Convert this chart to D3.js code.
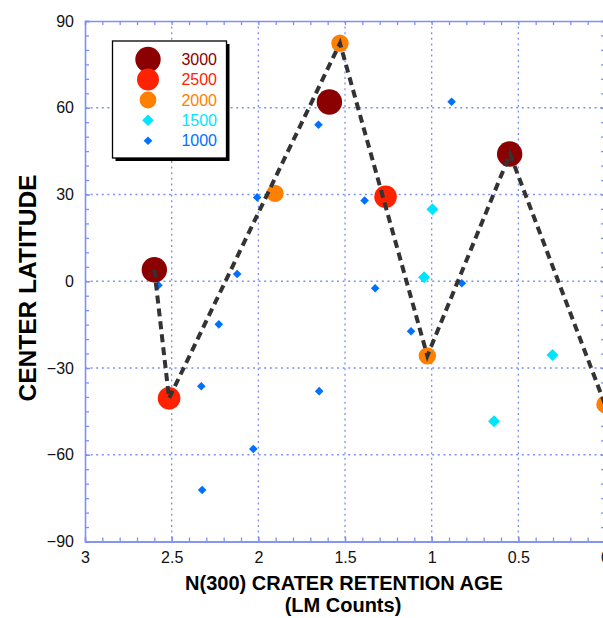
<!DOCTYPE html>
<html>
<head>
<meta charset="utf-8">
<script src="https://cdn.jsdelivr.net/npm/d3@7"></script>
<style>
  body { margin: 0; background: #fff; }
  text { font-family: "Liberation Sans", Arial, sans-serif; }
</style>
</head>
<body>
<script>
// tick labels
var xTicks = [3, 2.5, 2, 1.5, 1, 0.5, 0];
var yTicks = [-90, -60, -30, 0, 30, 60, 90];

// series: crater retention age (x) vs center latitude (y)
var age3000 = [2.60, 1.59, 0.55];
var lat3000 = [4, 62, 44];
var age2500 = [2.515, 1.266];
var lat2500 = [-40.5, 29.2];
var age2000 = [1.904, 1.529, 1.025, 0.0];
var lat2000 = [30.4, 82.3, -25.8, -42.6];
var age1500 = [0.996, 1.044, 0.303, 0.640];
var lat1500 = [24.9, 1.4, -25.5, -48.4];
var age1000 = [2.576, 2.122, 2.228, 2.007, 1.653, 0.885, 1.387, 1.326, 1.119, 0.826, 2.329, 1.649, 2.029, 2.324];
var lat1000 = [-1.4, 2.5, -14.9, 29.0, 54.1, 62.1, 27.9, -2.4, -17.3, -0.7, -36.3, -38.0, -58.0, -72.2];

// dashed envelope line
var envAge = [2.60, 2.515, 1.529, 1.025, 0.548, 0.0];
var envLat = [4, -40.5, 82.3, -25.8, 44, -42.6];

var legendLabels = ["3000", "2500", "2000", "1500", "1000"];

window.onload = drawChart();

function drawChart() {
    var width = 603,
        height = 618;

    var svg = d3.select("body")
        .append("svg")
        .attr("width", width)
        .attr("height", height);

    var x = d3.scaleLinear().domain([3, 0]).range([85, 605]);
    var y = d3.scaleLinear().domain([-90, 90]).range([541.5, 21]);

    var axisColor = "#7f8ff5";

    //dotted grid at major ticks
    var grid = svg.append("g");
    grid.selectAll(".gx")
        .data(xTicks.slice(1, -1))
        .enter().append("line")
        .attr("x1", function(d){ return x(d); })
        .attr("x2", function(d){ return x(d); })
        .attr("y1", y(90)).attr("y2", y(-90))
        .attr("stroke", axisColor).attr("stroke-width", 1.3)
        .attr("stroke-dasharray", "2,3.6");
    grid.selectAll(".gy")
        .data(yTicks.slice(1, -1))
        .enter().append("line")
        .attr("y1", function(d){ return y(d); })
        .attr("y2", function(d){ return y(d); })
        .attr("x1", x(3)).attr("x2", x(0))
        .attr("stroke", axisColor).attr("stroke-width", 1.3)
        .attr("stroke-dasharray", "2,3.6");

    //minor ticks
    var xMinor = d3.range(0, 30.5, 1).map(function(d){ return d / 10; });
    var yMinor = d3.range(-90, 91, 5);

    function styleAxis(g) {
        g.selectAll("path, line").attr("stroke", axisColor).attr("stroke-width", 1.3);
        g.selectAll("text").attr("font-size", 16).attr("fill", "#111")
            .style("font-family", "'Liberation Sans', Arial, sans-serif");
    }

    svg.append("g").attr("transform", "translate(0," + y(-90) + ")")
        .call(d3.axisBottom(x).tickValues(xTicks).tickSizeInner(-5).tickSizeOuter(0).tickPadding(10).tickFormat(d3.format("")))
        .call(styleAxis);
    svg.append("g").attr("transform", "translate(0," + y(-90) + ")")
        .call(d3.axisBottom(x).tickValues(xMinor).tickSize(-4).tickFormat(""))
        .call(styleAxis);
    svg.append("g").attr("transform", "translate(0," + y(90) + ")")
        .call(d3.axisTop(x).tickValues(xMinor).tickSize(-4).tickFormat(""))
        .call(styleAxis);

    svg.append("g").attr("transform", "translate(" + x(3) + ",0)")
        .call(d3.axisLeft(y).tickValues(yTicks).tickSizeInner(-5).tickSizeOuter(0).tickPadding(11))
        .call(styleAxis);
    svg.append("g").attr("transform", "translate(" + x(3) + ",0)")
        .call(d3.axisLeft(y).tickValues(yMinor).tickSize(-4).tickFormat(""))
        .call(styleAxis);
    svg.append("g").attr("transform", "translate(" + x(0) + ",0)")
        .call(d3.axisRight(y).tickValues(yMinor).tickSize(-4).tickFormat(""))
        .call(styleAxis);

    //axis titles
    svg.append("text")
        .attr("x", 344).attr("y", 590)
        .attr("text-anchor", "middle")
        .attr("font-size", 20).attr("font-weight", "bold")
        .text("N(300) CRATER RETENTION AGE");
    svg.append("text")
        .attr("x", 343).attr("y", 612)
        .attr("text-anchor", "middle")
        .attr("font-size", 20).attr("font-weight", "bold")
        .text("(LM Counts)");
    svg.append("text")
        .attr("transform", "translate(36,288) rotate(-90)")
        .attr("text-anchor", "middle")
        .attr("font-size", 24.5).attr("font-weight", "bold")
        .text("CENTER LATITUDE");

    var diamond = d3.symbol().type(d3.symbolSquare);

    function circles(ages, lats, r, color) {
        svg.append("g").selectAll("circle")
            .data(ages)
            .enter().append("circle")
            .attr("cx", function(d){ return x(d); })
            .attr("cy", function(d, i){ return y(lats[i]); })
            .attr("r", r)
            .attr("fill", color);
    }
    function diamonds(ages, lats, half, color) {
        svg.append("g").selectAll("path")
            .data(ages)
            .enter().append("path")
            .attr("d", diamond.size(2 * half * half))
            .attr("transform", function(d, i){ return "translate(" + x(d) + "," + y(lats[i]) + ") rotate(45)"; })
            .attr("fill", color);
    }

    var colors = ["#8b0000", "#ff2200", "#ff8000", "#00e5ff", "#0070ff"];

    diamonds(age1500, lat1500, 6, colors[3]);
    diamonds(age1000, lat1000, 4.3, colors[4]);
    circles(age2000, lat2000, 8.7, colors[2]);
    circles(age2500, lat2500, 11.3, colors[1]);
    circles(age3000, lat3000, 12.7, colors[0]);

    //dashed envelope
    var line = d3.line()
        .x(function(d){ return x(d); })
        .y(function(d, i){ return y(envLat[i]); });
    svg.append("path")
        .datum(envAge)
        .attr("d", line)
        .attr("fill", "none")
        .attr("stroke", "#333")
        .attr("stroke-width", 4)
        .attr("stroke-dasharray", "8,5");

    //legend
    var lg = svg.append("g");
    lg.append("rect").attr("x", 115.5).attr("y", 44).attr("width", 114).attr("height", 117).attr("fill", "#000");
    lg.append("rect").attr("x", 112.5).attr("y", 41).attr("width", 114).attr("height", 117)
        .attr("fill", "#fff").attr("stroke", "#000").attr("stroke-width", 1.3);
    var rowY = [59.5, 79.5, 100, 120.3, 140.7];
    var legR = [12.7, 11, 8.4];
    legendLabels.forEach(function(lab, i) {
        if (i < 3) {
            lg.append("circle").attr("cx", 148).attr("cy", rowY[i]).attr("r", legR[i]).attr("fill", colors[i]);
        } else {
            var h = i == 3 ? 5.8 : 4.3;
            lg.append("path").attr("d", diamond.size(2 * h * h))
                .attr("transform", "translate(148," + rowY[i] + ") rotate(45)")
                .attr("fill", colors[i]);
        }
        lg.append("text")
            .attr("x", 217).attr("y", rowY[i]).attr("dy", "0.36em")
            .attr("text-anchor", "end")
            .attr("font-size", 16)
            .attr("fill", colors[i])
            .text(lab);
    });
}
</script>
</body>
</html>
